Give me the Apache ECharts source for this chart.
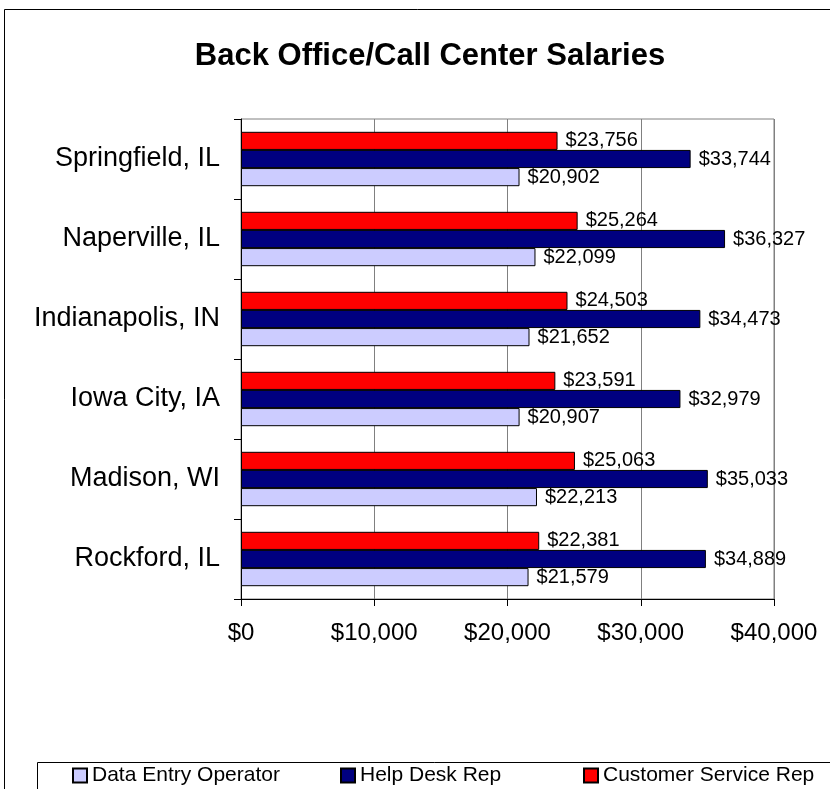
<!DOCTYPE html>
<html>
<head>
<meta charset="utf-8">
<script src="https://cdn.jsdelivr.net/npm/echarts@6/dist/echarts.min.js"></script>
<style>
  html, body { margin: 0; padding: 0; background: #fff; }
  #chart { width: 830px; height: 789px; }
</style>
</head>
<body>
<div id="chart"></div>
<script>
// cities, top to bottom
var cities = ['Springfield, IL', 'Naperville, IL', 'Indianapolis, IN', 'Iowa City, IA', 'Madison, WI', 'Rockford, IL'];
var customerService = [23756, 25264, 24503, 23591, 25063, 22381];
var helpDesk = [33744, 36327, 34473, 32979, 35033, 34889];
var dataEntry = [20902, 22099, 21652, 20907, 22213, 21579];
var xTicks = [0, 10000, 20000, 30000, 40000];
var legendNames = ['Data Entry Operator', 'Help Desk Rep', 'Customer Service Rep'];

var FONT = 'Liberation Sans, Arial, sans-serif';

function money(v) {
    return '$' + String(v).replace(/\B(?=(\d{3})+(?!\d))/g, ',');
}

var chart = echarts.init(document.getElementById('chart'));

function barSeries(name, data, color) {
    return {
        name: name,
        type: 'bar',
        data: data,
        barGap: '0%',
        barCategoryGap: '32%',
        itemStyle: { color: color, borderColor: '#000', borderWidth: 1 },
        label: {
            show: true,
            position: 'right',
            distance: 8,
            color: '#000',
            fontFamily: FONT,
            fontSize: 20,
            formatter: function (p) { return money(p.value); }
        }
    };
}

// Excel spreads the legend entries unevenly, so one legend per entry
var legendLefts = [72, 340, 583];
var legends = legendNames.map(function (n, i) {
    return {
        data: [n],
        left: legendLefts[i],
        top: 765,
        padding: 0,
        icon: 'rect',
        itemWidth: 14,
        itemHeight: 14,
        itemGap: 0,
        textStyle: { fontFamily: FONT, fontSize: 21, color: '#000' }
    };
});

var option = {
    animation: false,
    backgroundColor: '#fff',
    title: {
        text: 'Back Office/Call Center Salaries',
        left: 425,
        textAlign: 'center',
        top: 36,
        textStyle: { fontFamily: FONT, fontSize: 31, fontWeight: 'bold', color: '#000' }
    },
    graphic: [
        {   // outer chart frame (cut off on the right and bottom)
            type: 'rect',
            shape: { x: 4.5, y: 9.5, width: 1000, height: 1000 },
            style: { fill: 'none', stroke: '#000', lineWidth: 1 },
            silent: true
        },
        {   // legend frame
            type: 'rect',
            shape: { x: 37.5, y: 762.5, width: 1000, height: 100 },
            style: { fill: 'none', stroke: '#000', lineWidth: 1 },
            silent: true
        }
    ],
    legend: legends,
    grid: {
        left: 241,
        top: 119,
        width: 533,
        height: 480,
        show: true,
        borderColor: '#808080',
        borderWidth: 1
    },
    xAxis: {
        type: 'value',
        min: xTicks[0],
        max: xTicks[xTicks.length - 1],
        interval: 10000,
        axisLine: { show: true, lineStyle: { color: '#000' } },
        axisTick: { show: true, length: 7, lineStyle: { color: '#000' } },
        splitLine: { show: true, lineStyle: { color: '#808080' } },
        axisLabel: {
            margin: 22,
            color: '#000',
            fontFamily: FONT,
            fontSize: 24,
            formatter: function (v) { return money(v); }
        }
    },
    yAxis: {
        type: 'category',
        data: cities,
        inverse: true,
        axisLine: { show: true, lineStyle: { color: '#000' } },
        axisTick: { show: true, length: 7, lineStyle: { color: '#000' } },
        axisLabel: {
            margin: 21,
            color: '#000',
            fontFamily: FONT,
            fontSize: 27
        }
    },
    series: [
        barSeries('Customer Service Rep', customerService, '#FF0000'),
        barSeries('Help Desk Rep', helpDesk, '#000080'),
        barSeries('Data Entry Operator', dataEntry, '#CCCCFF')
    ]
};

chart.setOption(option);
</script>
</body>
</html>
